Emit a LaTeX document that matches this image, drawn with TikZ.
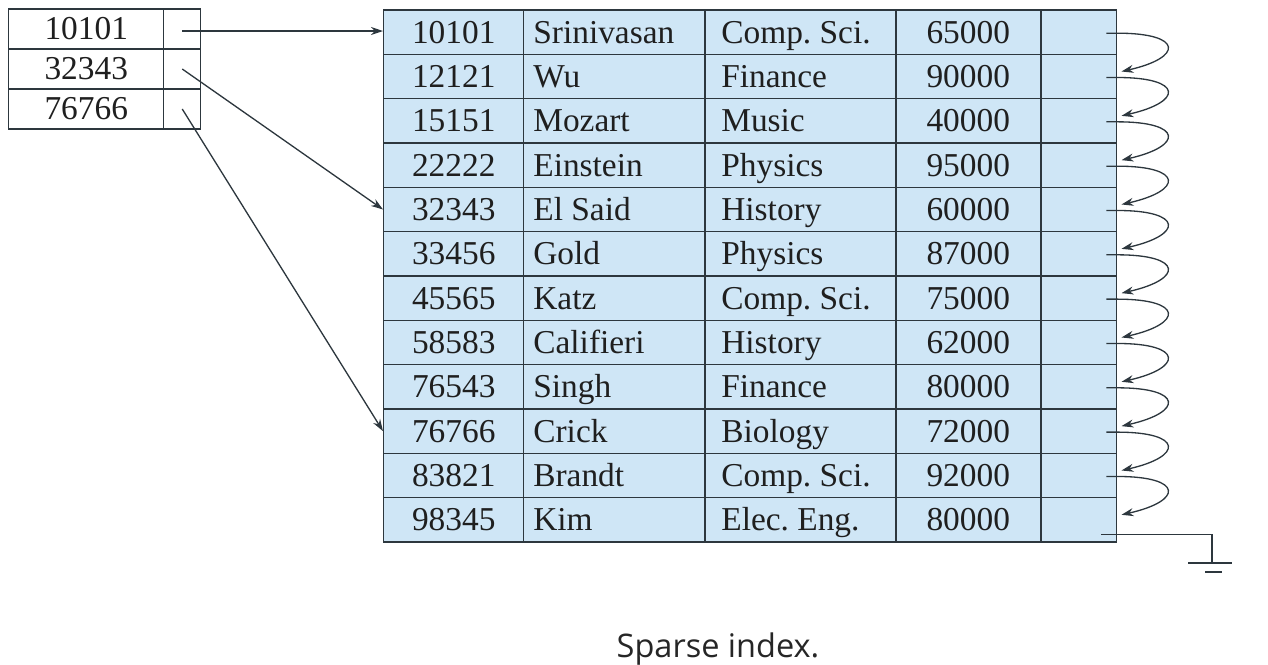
\documentclass[tikz,border=0pt]{standalone}
\usepackage{fontspec}
\setmainfont{Liberation Serif}
\newfontfamily\capfont{Open Sans}
\usepackage{tikz}
\usetikzlibrary{arrows.meta}
\definecolor{rec-blue}{RGB}{207,230,246}
\definecolor{rec-line}{RGB}{45,55,62}
\frenchspacing

\begin{document}
\begin{tikzpicture}[x=0.02cm, y=-0.02cm, font=\fontsize{19}{22}\selectfont,
            cell/.style={draw=rec-line, line width=0.85pt, fill=rec-blue,
                         anchor=west, minimum height=0.8867cm, inner sep=0pt,
                         text height=12.5pt, text depth=0pt, text=black!88},
            idxcell/.style={cell, fill=white, minimum height=0.8cm},
            txt/.style={anchor=west, inner sep=0pt, text height=12.5pt,
                        text depth=0pt, text=black!88},
            ptr/.style={-{Stealth[length=0.24cm, width=0.16cm]}, line width=0.75pt,
                        rec-line}]
          \useasboundingbox (0,0) rectangle (1268,664);
          % index file
          \foreach \i/\key in {1/10101, 2/32343, 3/76766} {
            \pgfmathsetmacro{\yy}{29+40*(\i-1)}
            \node[idxcell, minimum width=3.1cm] (k\i) at (8,\yy) {\key};
            \node[idxcell, minimum width=0.74cm] (ip\i) at (163,\yy) {};
          }
          % sequential file
          \foreach \i/\id/\nm/\dept/\sal in {1/10101/Srinivasan/Comp. Sci./65000,
              2/12121/Wu/Finance/90000, 3/15151/Mozart/Music/40000,
              4/22222/Einstein/Physics/95000, 5/32343/El Said/History/60000,
              6/33456/Gold/Physics/87000, 7/45565/Katz/Comp. Sci./75000,
              8/58583/Califieri/History/62000, 9/76543/Singh/Finance/80000,
              10/76766/Crick/Biology/72000, 11/83821/Brandt/Comp. Sci./92000,
              12/98345/Kim/Elec. Eng./80000} {
            \pgfmathsetmacro{\yy}{10+44.33*(\i-0.5)}
            \node[cell, minimum width=2.8cm] (r\i) at (383,\yy) {\id};
            \node[cell, minimum width=3.62cm] (n\i) at (523,\yy) {};
            \node[cell, minimum width=3.82cm] (d\i) at (704,\yy) {};
            \node[cell, minimum width=2.9cm] (s\i) at (895,\yy) {\sal};
            \node[cell, minimum width=1.52cm] (p\i) at (1040,\yy) {};
            \node[txt] (nt\i) at ([xshift=0.2cm]n\i.west) {\nm};
            \node[txt] (dt\i) at ([xshift=0.34cm]d\i.west) {\dept};
          }
          % index pointers
          \draw[ptr] ([yshift=-0.04cm]ip1.center) -- ([yshift=-0.04cm]ip1.center -| r1.west);
          \draw[ptr] (ip2.center) -- (r5.west);
          \draw[ptr] (ip3.center) -- (r10.west);
          % record chain
          \foreach \i [evaluate=\i as \j using int(\i+1)] in {1,...,11} {
            \draw[ptr] ([xshift=-0.22cm, yshift=-0.02cm]p\i.east)
                -- ([yshift=-0.02cm]p\i.east)
                .. controls +(66,0) and +(62,-14) .. ([xshift=0.08cm, yshift=0.1cm]p\j.east);
          }
          \coordinate (gnd) at (1212,563);
          \draw[line width=0.75pt, rec-line] ([xshift=-0.32cm, yshift=-0.3cm]p12.east)
                -| (gnd);
          \draw[line width=0.9pt, rec-line] ([xshift=-0.48cm]gnd) -- ([xshift=0.4cm]gnd);
          \draw[line width=0.9pt, rec-line] ([xshift=-0.14cm, yshift=-0.18cm]gnd)
                -- ([xshift=0.2cm, yshift=-0.18cm]gnd);
          % caption
          \node[font=\capfont\fontsize{18.5}{22}\selectfont, text=black!85] (cap)
                at (718,649) {Sparse index.};
        \end{tikzpicture}
\end{document}
